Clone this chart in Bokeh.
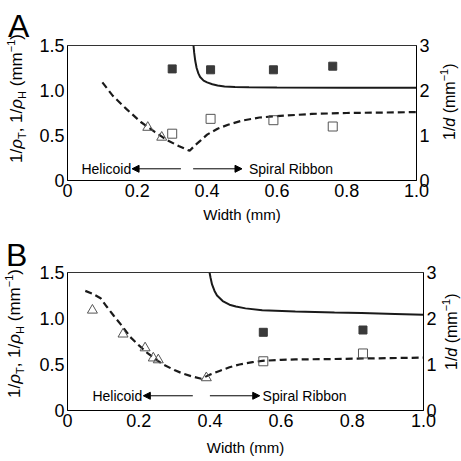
from bokeh.plotting import figure
from bokeh.models import Range1d, LinearAxis, FixedTicker, Label, Arrow, NormalHead, Div
from bokeh.layouts import column, row
from bokeh.embed import file_html
from bokeh.resources import INLINE

FONT = "Liberation Sans"

# ---------------- data: panel A ----------------
a_dash_x = [0.10, 0.13, 0.17, 0.21, 0.25, 0.285, 0.32, 0.35, 0.365, 0.38, 0.40, 0.43,
            0.46, 0.50, 0.55, 0.60, 0.70, 0.80, 0.90, 1.00]
a_dash_y = [1.09, 0.94, 0.79, 0.65, 0.54, 0.45, 0.38, 0.33, 0.39, 0.44, 0.51, 0.575,
            0.62, 0.665, 0.70, 0.715, 0.74, 0.75, 0.755, 0.76]
a_solid_x = [0.361, 0.363, 0.366, 0.370, 0.375, 0.380, 0.390, 0.400, 0.415, 0.430,
             0.450, 0.480, 0.520, 0.600, 0.800, 1.000]
a_solid_d = [3.00, 2.84, 2.66, 2.50, 2.38, 2.30, 2.22, 2.18, 2.14, 2.11,
             2.09, 2.076, 2.07, 2.064, 2.06, 2.06]
a_filled_x = [0.30, 0.41, 0.59, 0.76]
a_filled_d = [2.48, 2.46, 2.46, 2.54]
a_open_x = [0.30, 0.41, 0.59, 0.76]
a_open_y = [0.52, 0.685, 0.67, 0.60]
a_tri_x = [0.23, 0.27]
a_tri_y = [0.59, 0.48]

# ---------------- data: panel B ----------------
b_dash_x = [0.05, 0.07, 0.093, 0.11, 0.13, 0.155, 0.176, 0.20, 0.223, 0.25, 0.269, 0.30,
            0.325, 0.35, 0.376, 0.40, 0.427, 0.455, 0.483, 0.52, 0.547, 0.60, 0.64, 0.75,
            0.83, 1.00]
b_dash_y = [1.30, 1.27, 1.22, 1.13, 1.03, 0.91, 0.80, 0.71, 0.63, 0.55, 0.50, 0.44,
            0.40, 0.37, 0.345, 0.39, 0.43, 0.47, 0.50, 0.525, 0.54, 0.55, 0.555, 0.56,
            0.565, 0.575]
b_solid_x = [0.399, 0.402, 0.406, 0.413, 0.42, 0.436, 0.455, 0.473, 0.50, 0.547, 0.64,
             0.75, 0.826, 0.92, 1.00]
b_solid_d = [3.00, 2.88, 2.74, 2.60, 2.50, 2.38, 2.30, 2.26, 2.22, 2.18, 2.15,
             2.13, 2.12, 2.10, 2.08]
b_filled_x = [0.55, 0.83]
b_filled_d = [1.70, 1.75]
b_open_x = [0.55, 0.83]
b_open_y = [0.535, 0.62]
b_tri_x = [0.07, 0.156, 0.218, 0.241, 0.255, 0.39]
b_tri_y = [1.09, 0.83, 0.68, 0.57, 0.55, 0.355]

# ---------------- axis ticks / labels ----------------
x_ticks = [0, 0.2, 0.4, 0.6, 0.8, 1.0]
x_tick_labels = ["0", "0.2", "0.4", "0.6", "0.8", "1.0"]
y_ticks = [0, 0.5, 1.0, 1.5]
y_tick_labels = ["0", "0.5", "1.0", "1.5"]
d_ticks = [0, 1, 2, 3]
d_tick_labels = ["0", "1", "2", "3"]
x_title = "Width (mm)"
SUB = '<span style="font-size:11px;position:relative;top:4px">{}</span>'
SUP = '<span style="font-size:11px;position:relative;top:-7px">{}</span>'
left_title_html = ("1/<i>\u03c1</i>" + SUB.format("T") + ", 1/<i>\u03c1</i>" + SUB.format("H")
                   + " (mm" + SUP.format("\u22121") + ")")
right_title_html = "1/<i>d</i> (mm" + SUP.format("\u22121") + ")"


def vert_div(html, width, height, left, bottom, size, letter=None, lx=0, ly=0):
    inner = ""
    if letter is not None:
        inner += (f'<div style="position:absolute;left:{lx}px;top:{ly}px;'
                  f"font-family:'{FONT}';font-size:32px;line-height:1;color:black;\">"
                  f"{letter}</div>")
    inner += (f'<div style="position:absolute;left:{left}px;top:{bottom}px;'
              f"transform-origin:0 0;transform:rotate(-90deg);white-space:nowrap;"
              f"font-family:'{FONT}';font-size:{size}px;line-height:1;color:black;\">"
              f"{html}</div>")
    text = (f'<div style="position:relative;width:{width}px;height:{height}px;'
            f'overflow:visible;margin:0;padding:0;">{inner}</div>')
    return Div(text=text, width=width, height=height, margin=0)


def panel(dx, dy, sx, sd, fx, fd, ox, oy, tx, ty, ann, width, height, bl, br, bt, bb,
          xlab_standoff):
    p = figure(width=width, height=height, x_range=Range1d(0, 1), y_range=Range1d(0, 1.5),
               output_backend="svg", toolbar_location=None,
               min_border_left=bl, min_border_right=br, min_border_top=bt,
               min_border_bottom=bb)
    p.extra_y_ranges = {"d": Range1d(0, 3)}
    p.xgrid.visible = False
    p.ygrid.visible = False
    p.outline_line_color = "#333333"
    p.outline_line_width = 1
    p.background_fill_color = "white"
    p.border_fill_color = "white"

    for ax in (p.xaxis[0], p.yaxis[0]):
        ax.major_tick_in = 0
        ax.major_tick_out = 0
        ax.minor_tick_in = 0
        ax.minor_tick_out = 0
        ax.major_label_text_font = FONT
        ax.major_label_text_font_size = "18px"
        ax.major_label_text_color = "black"
        ax.axis_line_color = "black"
    p.xaxis.ticker = FixedTicker(ticks=x_ticks)
    p.xaxis.major_label_overrides = dict(zip(x_ticks, x_tick_labels))
    p.xaxis.major_label_standoff = 3
    p.xaxis.axis_label = x_title
    p.xaxis.axis_label_text_font = FONT
    p.xaxis.axis_label_text_font_size = "15px"
    p.xaxis.axis_label_text_font_style = "normal"
    p.xaxis.axis_label_text_color = "black"
    p.xaxis.axis_label_standoff = xlab_standoff
    p.yaxis.ticker = FixedTicker(ticks=y_ticks)
    p.yaxis.major_label_overrides = dict(zip(y_ticks, y_tick_labels))
    p.yaxis.major_label_standoff = 3

    ra = LinearAxis(y_range_name="d", ticker=FixedTicker(ticks=d_ticks),
                    major_label_overrides=dict(zip(d_ticks, d_tick_labels)),
                    major_tick_in=0, major_tick_out=0, minor_tick_in=0, minor_tick_out=0,
                    major_label_text_font=FONT, major_label_text_font_size="18px",
                    major_label_text_color="black",
                    major_label_standoff=3, axis_line_color="black")
    p.add_layout(ra, "right")

    p.line(dx, dy, line_color="#1a1a1a", line_width=2.2, line_dash="7 4")
    p.line(sx, sd, y_range_name="d", line_color="#1a1a1a", line_width=2)
    p.scatter(fx, fd, y_range_name="d", marker="square", size=8,
              fill_color="#3a3a3a", line_color="#3a3a3a")
    p.scatter(ox, oy, marker="square", size=9, fill_color=None,
              line_color="#555555", line_width=1)
    p.scatter(tx, ty, marker="triangle", size=10, fill_color=None,
              line_color="#555555", line_width=1)

    hx, ax0, ax1, bx0, bx1, sxr, yy = ann
    p.add_layout(Label(x=hx, y=yy, text="Helicoid", text_font=FONT, text_font_size="14px",
                       text_baseline="middle", text_align="left", text_color="black"))
    p.add_layout(Label(x=sxr, y=yy, text="Spiral Ribbon", text_font=FONT,
                       text_font_size="14px", text_baseline="middle", text_align="left",
                       text_color="black"))
    p.add_layout(Arrow(end=NormalHead(size=7, fill_color="black", line_color="black"),
                       x_start=ax0, y_start=yy, x_end=ax1, y_end=yy, line_width=1))
    p.add_layout(Arrow(end=NormalHead(size=7, fill_color="black", line_color="black"),
                       x_start=bx0, y_start=yy, x_end=bx1, y_end=yy, line_width=1))
    return p


# ---------------- panel A ----------------
HA = 228
pa = panel(a_dash_x, a_dash_y, a_solid_x, a_solid_d, a_filled_x, a_filled_d,
           a_open_x, a_open_y, a_tri_x, a_tri_y,
           (0.04, 0.325, 0.185, 0.36, 0.50, 0.52, 0.13),
           405, HA, 27, 25, 45, 48, 6)
la = vert_div(left_title_html, 36, HA, 8, 163, 17, "A", 8, 10)
ra_ = vert_div(right_title_html, 20, HA, 1, 140, 16)

# ---------------- panel B ----------------
HB = 233
pb = panel(b_dash_x, b_dash_y, b_solid_x, b_solid_d, b_filled_x, b_filled_d,
           b_open_x, b_open_y, b_tri_x, b_tri_y,
           (0.07, 0.352, 0.213, 0.40, 0.54, 0.548, 0.16),
           405, HB, 27, 18, 44, 51, 9)
lb = vert_div(left_title_html, 36, HB, 6, 170, 17, "B", 6, 11)
rb_ = vert_div(right_title_html, 20, HB, 3, 142, 16)

layout = column(row(la, pa, ra_, spacing=0), row(lb, pb, rb_, spacing=0), spacing=0)
open("out.html", "w").write(file_html(layout, INLINE))
